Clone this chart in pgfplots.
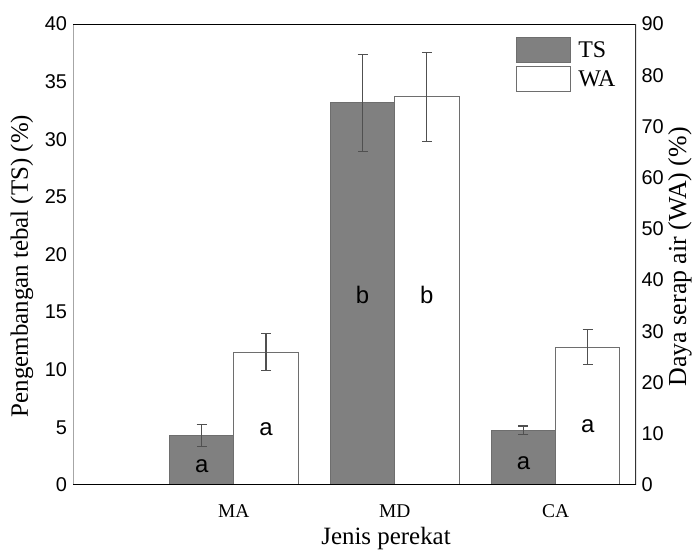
\documentclass[border=0pt]{standalone}
\usepackage{pgfplots}
\pgfplotsset{compat=1.18}
\usepackage{fontspec}
\setmainfont{Liberation Serif}
\newfontfamily\arial{Liberation Sans}
\definecolor{tsgray}{HTML}{808080}
\definecolor{edgegray}{HTML}{6E6E6E}
\definecolor{errgray}{HTML}{505050}
\tikzset{letter/.style={font=\arial\fontsize{24}{26}\selectfont}}
\begin{document}
\begin{tikzpicture}
\useasboundingbox (-73bp,-66bp) rectangle (624bp,485bp);
\pgfplotsset{
  common/.style={
    width=563bp, height=461bp, scale only axis,
    xmin=-1, xmax=2.5,
    ymin=0,
    ybar,
    bar width=0.4,
    major tick length=0pt,
    axis line style={draw=none},
    /pgf/number format/assume math mode=true,
    tick label style={font=\arial\fontsize{20}{22}\selectfont},
    label style={font=\fontsize{25}{28}\selectfont},
    error bars/y dir=both, error bars/y explicit,
    error bars/error bar style={errgray, line width=1.1bp},
    error bars/error mark options={rotate=90, mark size=5bp, errgray, line width=1.1bp},
  },
}
\begin{axis}[common,
  ymax=40, ytick={0,5,...,40},
  axis y line*=left, axis x line*=bottom,
  yticklabel style={xshift=-2.5bp},
  xtick={0,1,2}, xticklabels={MA,MD,CA},
  xticklabel style={font=\fontsize{19.5}{21}\selectfont, yshift=-16bp},
  xlabel={Jenis perekat},
  xlabel style={at={(axis description cs:0.556,-0.115)}, anchor=center},
  ylabel={Pengembangan tebal (TS) (\%)},
  ylabel style={at={(axis description cs:-0.0906,0.475)}, anchor=center},
]
\addplot[bar shift=-0.2, fill=tsgray, draw=edgegray, line width=1bp]
  coordinates {(0,4.3) +- (0,0.95) (1,33.15) +- (0,4.2) (2,4.75) +- (0,0.37)};
\end{axis}
\begin{axis}[common,
  ymax=90, ytick={0,10,...,90},
  axis y line*=right, axis x line=none,
  yticklabel style={xshift=2bp},
  ylabel={Daya serap air (WA) (\%)},
  ylabel style={at={(axis description cs:1.078,0.495)}, anchor=center, rotate=0,
    font=\fontsize{26}{28}\selectfont},
  legend style={at={(axis description cs:0.787,0.972)}, anchor=north west, draw=none, fill=none,
    font=\fontsize{24}{26}\selectfont, row sep=3bp, inner sep=0pt},
  legend cell align=left,
  legend image code/.code={\draw[#1] (0bp,-12.5bp) rectangle (54bp,12.5bp); \path (59bp,0bp);},
]
\addlegendimage{fill=tsgray, draw=edgegray, line width=1bp}
\addlegendentry{TS}
\addplot[bar shift=0.2, fill=white, draw=edgegray, line width=1bp]
  coordinates {(0,25.9) +- (0,3.6) (1,75.75) +- (0,8.65) (2,26.9) +- (0,3.4)};
\addlegendentry{WA}
\node[letter] at (axis cs:-0.2,3.71) {a};
\node[letter] at (axis cs:0.2,10.94) {a};
\node[letter] at (axis cs:0.8,37.1) {b};
\node[letter] at (axis cs:1.2,37.1) {b};
\node[letter] at (axis cs:1.8,4.34) {a};
\node[letter] at (axis cs:2.2,11.4) {a};
\draw[gray!70, line width=1.6bp] (rel axis cs:0,0) -- (rel axis cs:0,1);
\draw[black, line width=1.6bp] (rel axis cs:0,1) -- (rel axis cs:1,1);
\draw[black!80, line width=1.8bp] (rel axis cs:1,1) -- (rel axis cs:1,0);
\draw[black, line width=2.2bp] (rel axis cs:0,0) -- (rel axis cs:1,0);
\end{axis}
\end{tikzpicture}
\end{document}
